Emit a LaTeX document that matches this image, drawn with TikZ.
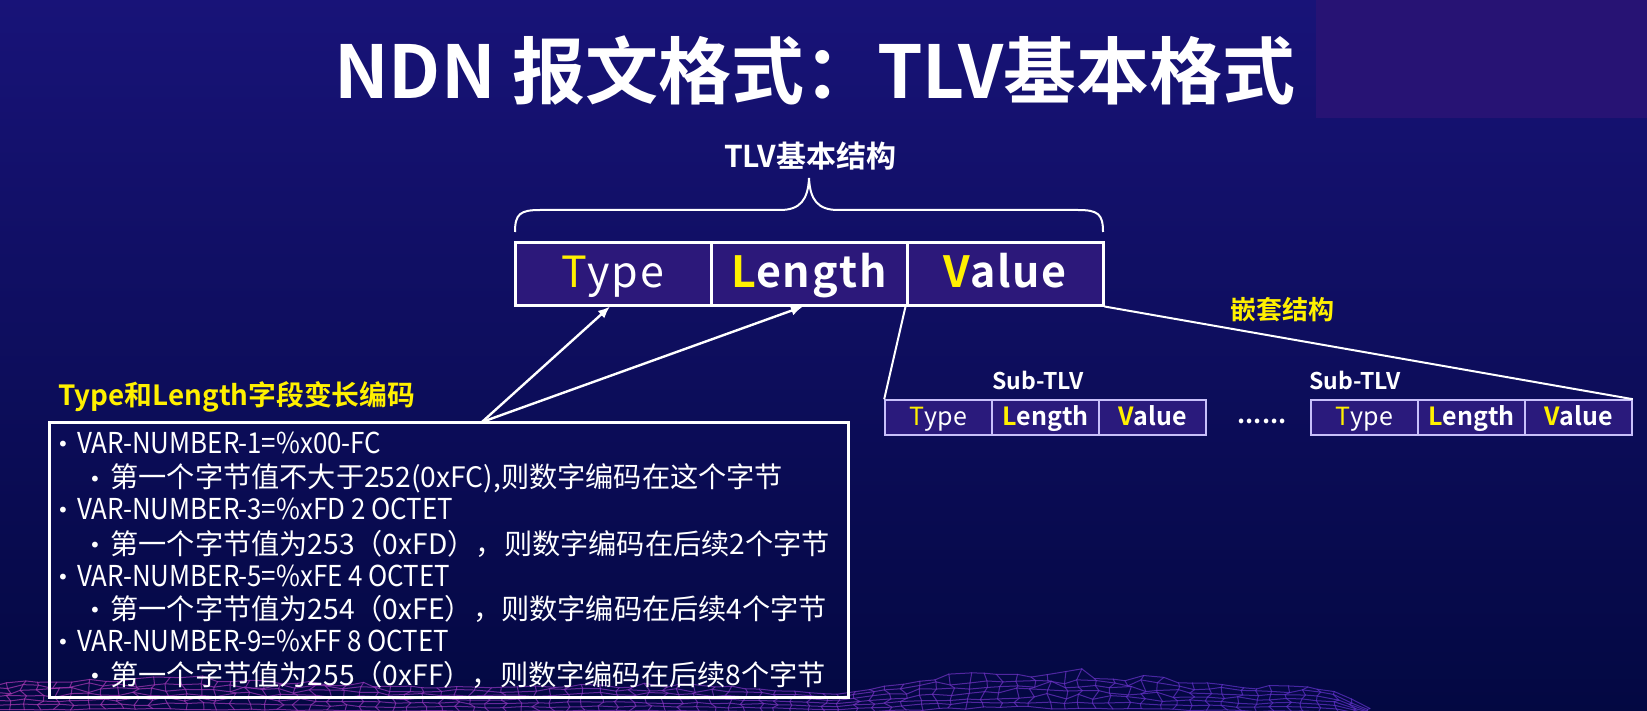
\documentclass[tikz,border=0pt]{standalone}
\usepackage{fontspec}
\setmainfont{Noto Sans CJK SC}[BoldFont={Noto Sans CJK SC Bold}]
\newfontfamily\cellfont{Noto Sans CJK SC}[LetterSpace=4,BoldFont={Noto Sans CJK SC Bold}]
\newfontfamily\narrowfont{Noto Sans CJK SC}[FakeStretch=0.9]
\newfontfamily\dotfont{DejaVu Sans}
\usetikzlibrary{arrows.meta}

\definecolor{bgtop}{RGB}{24,19,120}
\definecolor{bgmid}{RGB}{12,14,100}
\definecolor{bgbot}{RGB}{3,8,66}
\definecolor{bandpurple}{RGB}{39,19,116}
\definecolor{cellfill}{RGB}{44,24,122}
\definecolor{subfill}{RGB}{42,26,124}
\definecolor{subedge}{RGB}{200,192,250}
\definecolor{hl}{RGB}{255,240,0}
\definecolor{meshL}{RGB}{165,55,175}
\definecolor{meshR}{RGB}{92,48,195}

\tikzset{
  cell/.style={draw=white, line width=1.5pt, fill=cellfill, minimum width=98pt,
    minimum height=31.5pt, inner sep=0pt, text=white, text height=18pt, text depth=4pt,
    font=\cellfont\fontsize{21.5}{24}\selectfont},
  subcell/.style={draw=subedge, line width=0.8pt, fill=subfill, minimum width=53.5pt,
    minimum height=17.5pt, inner sep=0pt, text=white, text height=10.8pt, text depth=2.5pt,
    font=\fontsize{12.5}{14}\selectfont},
  sublabel/.style={inner sep=0pt, text=white, font=\bfseries\fontsize{11.5}{13}\selectfont},
  heading/.style={inner sep=0pt, text=hl, font=\bfseries\fontsize{13.9}{16}\selectfont},
  itemone/.style={anchor=west, inner sep=0pt, text=white, font=\narrowfont\fontsize{14.4}{17}\selectfont},
  itemtwo/.style={anchor=west, inner sep=0pt, text=white, font=\fontsize{14.1}{17}\selectfont},
  bulletmark/.style={inner sep=0pt, text=white, font=\dotfont\fontsize{10}{12}\selectfont},
  link/.style={draw=white, line width=1pt},
  pointer/.style={draw=white, line width=1.2pt, -{Latex[length=6pt,width=5pt]}},
  listbox/.style={draw=white, line width=1.5pt, minimum width=399.5pt, minimum height=137.5pt, inner sep=0pt},
  mesh/.style={line width=0.5pt, opacity=0.75, line cap=round},
}

\begin{document}
\begin{tikzpicture}[x=0.5pt, y=-0.5pt]
\useasboundingbox (0,0) rectangle (1647,711);

% backdrop
\shade[top color=bgtop, middle color=bgmid, bottom color=bgbot] (0,0) rectangle (1647,711);
\fill[bandpurple] (1316,0) rectangle (1647,118);

% wire-frame hills along the bottom edge
\begin{scope}
\clip (0,0) rectangle (1647,711);
\pgfmathsetseed{11}
\foreach \j in {0,...,6} {
  \foreach \i in {0,...,86} {
    \pgfmathsetmacro\xx{\i*16 - 8 + 4*rand}
    \pgfmathsetmacro\amp{20*max(0,1-((\xx-170)/330)^2) + 27*max(0,1-((\xx-1045)/210)^2) + 12*max(0,1-((\xx-620)/220)^2) + 10*max(0,1-((\xx-1280)/90)^2) - 18*max(0,(\xx-1330)/40)}
    \pgfmathsetmacro\yy{713 - 3*\j - \amp*(0.6+0.4*rnd)*(0.25+0.75*\j/6)}
    \coordinate (m-\i-\j) at (\xx,\yy);
  }
}
\foreach \j in {0,...,6} {
  \foreach \i in {0,...,85} {
    \pgfmathtruncatemacro\ii{\i+1}
    \pgfmathtruncatemacro\mix{100-min(100,\i*1.3)}
    \draw[mesh, draw=meshL!\mix!meshR] (m-\i-\j) -- (m-\ii-\j);
  }
}
\foreach \i in {0,...,86} {
  \pgfmathtruncatemacro\mix{100-min(100,\i*1.3)}
  \draw[mesh, draw=meshL!\mix!meshR] (m-\i-0) \foreach \j in {1,...,6} { -- (m-\i-\j) };
}
\end{scope}

% title
\node[inner sep=0pt, text=white, font=\bfseries\fontsize{36.5}{40}\selectfont] (title) at (815,71) {NDN 报文格式：TLV基本格式};

% basic TLV structure
\node[inner sep=0pt, text=white, font=\bfseries\fontsize{15}{17}\selectfont] (tlvname) at (810,156) {TLV基本结构};
\draw[white, line width=1pt] (515,232) .. controls (515,214) and (520,210) .. (540,210) -- (780,210)
  .. controls (800,210) and (808,200) .. (809,178) .. controls (810,200) and (818,210) .. (838,210)
  -- (1078,210) .. controls (1098,210) and (1103,214) .. (1103,232);

\node[cell] (T) at (613,273.5) {\textcolor{hl}{T}ype};
\node[cell] (L) at (809,273.5) {\bfseries\textcolor{hl}{L}ength};
\node[cell] (V) at (1005,273.5) {\bfseries\textcolor{hl}{V}alue};

% nested sub-TLVs
\node[inner sep=0pt, text=hl, font=\bfseries\fontsize{13}{15}\selectfont] (nest) at (1282,310) {嵌套结构};

\node[sublabel] (sub1) at (1038,380) {Sub-TLV};
\node[subcell] (s1t) at (938.5,417.5) {\textcolor{hl}{T}ype};
\node[subcell] (s1l) at (1045.5,417.5) {\bfseries\textcolor{hl}{L}ength};
\node[subcell] (s1v) at (1152.5,417.5) {\bfseries\textcolor{hl}{V}alue};

\node[inner sep=0pt, text=white, anchor=base, font=\bfseries\fontsize{12.5}{14}\selectfont] (dots) at (1262,423) {......};

\node[sublabel] (sub2) at (1355,380) {Sub-TLV};
\node[subcell] (s2t) at (1364.5,417.5) {\textcolor{hl}{T}ype};
\node[subcell] (s2l) at (1471.5,417.5) {\bfseries\textcolor{hl}{L}ength};
\node[subcell] (s2v) at (1578.5,417.5) {\bfseries\textcolor{hl}{V}alue};

\draw[link] (V.south west) -- (s1t.north west);
\draw[link] (V.south east) -- (s2v.north east);

% variable-length encoding notes
\node[heading, anchor=west] (head) at (58,397) {Type和Length字段变长编码};
\node[listbox] (list) at (448.5,559.5) {};
\coordinate (fork) at (482,422);
\draw[pointer] (fork) -- ([xshift=-1.5pt]T.south);
\draw[pointer] (fork) -- ([xshift=-3pt]L.south);

\node[bulletmark] (b1) at (63,446) {•};
\node[itemone] (l1) at (77,443) {VAR-NUMBER-1=\%x00-FC};
\node[bulletmark] (b2) at (95,481) {•};
\node[itemtwo] (l2) at (110,478) {第一个字节值不大于252(0xFC),则数字编码在这个字节};
\node[bulletmark] (b3) at (63,512) {•};
\node[itemone] (l3) at (77,509) {VAR-NUMBER-3=\%xFD 2 OCTET};
\node[bulletmark] (b4) at (95,547) {•};
\node[itemtwo] (l4) at (110,544) {第一个字节值为253（0xFD），则数字编码在后续2个字节};
\node[bulletmark] (b5) at (63,579) {•};
\node[itemone] (l5) at (77,576) {VAR-NUMBER-5=\%xFE 4 OCTET};
\node[bulletmark] (b6) at (95,612) {•};
\node[itemtwo] (l6) at (110,609) {第一个字节值为254（0xFE），则数字编码在后续4个字节};
\node[bulletmark] (b7) at (63,644) {•};
\node[itemone] (l7) at (77,641) {VAR-NUMBER-9=\%xFF 8 OCTET};
\node[bulletmark] (b8) at (95,678) {•};
\node[itemtwo] (l8) at (110,675) {第一个字节值为255（0xFF），则数字编码在后续8个字节};
\end{tikzpicture}
\end{document}
